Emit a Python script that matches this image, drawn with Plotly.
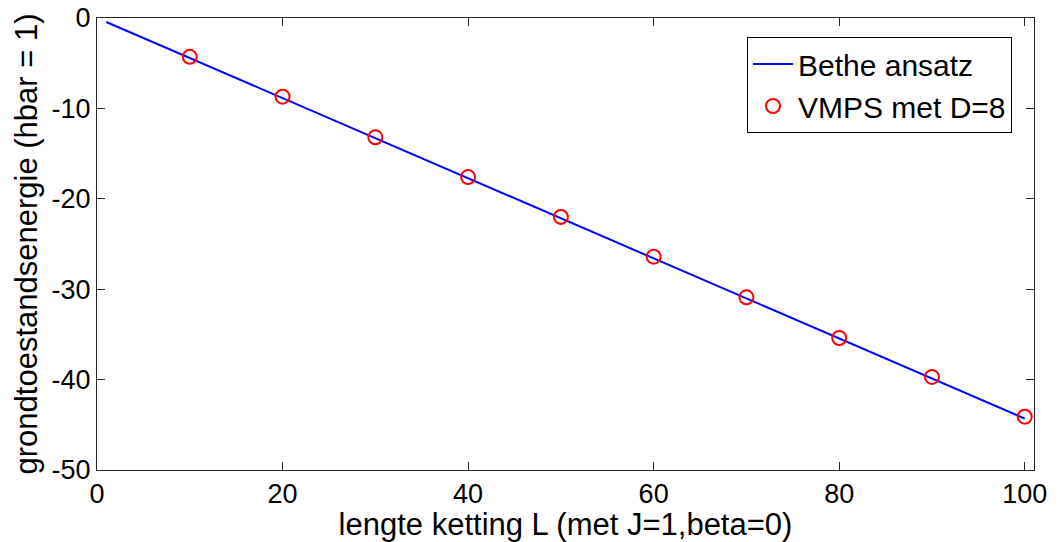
import plotly.graph_objects as go

FONT_FAMILY = "Liberation Sans, Arial, sans-serif"
AXIS_COLOR = "#262626"

# Bethe ansatz ground-state energy versus chain length
bethe_L = [1, 10, 20, 30, 40, 50, 60, 70, 80, 90, 100]
bethe_E = [-0.44, -4.43, -8.86, -13.29, -17.72, -22.16, -26.59, -31.02, -35.45, -39.88, -44.31]

# VMPS results with bond dimension D=8
vmps_L = [10, 20, 30, 40, 50, 60, 70, 80, 90, 100]
vmps_E = [-4.3, -8.7, -13.2, -17.6, -22.0, -26.4, -30.9, -35.4, -39.7, -44.1]


def _axis_layout(**overrides):
    axis = dict(
        showline=True,
        linecolor=AXIS_COLOR,
        linewidth=1,
        mirror="ticks",
        ticks="inside",
        ticklen=8,
        tickcolor=AXIS_COLOR,
        showgrid=False,
        zeroline=False,
        automargin=False,
        ticklabeloverflow="allow",
        tickfont=dict(size=27, color="#000000"),
        title_font=dict(size=31, color="#000000"),
    )
    axis.update(overrides)
    return axis


fig = go.Figure()
fig.add_trace(
    go.Scatter(
        x=bethe_L,
        y=bethe_E,
        mode="lines",
        name="Bethe ansatz",
        line=dict(color="#0000ff", width=2),
    )
)
fig.add_trace(
    go.Scatter(
        x=vmps_L,
        y=vmps_E,
        mode="markers",
        name="VMPS met D=8",
        marker=dict(
            symbol="circle-open",
            size=14,
            color="#ff0000",
            line=dict(color="#ff0000", width=2),
        ),
    )
)

fig.update_layout(
    width=1064,
    height=542,
    paper_bgcolor="#ffffff",
    plot_bgcolor="#ffffff",
    margin=dict(l=97, r=30, t=18, b=72, autoexpand=False),
    font=dict(family=FONT_FAMILY, color="#000000", size=30),
    xaxis=_axis_layout(
        range=[0, 101],
        tickvals=[0, 20, 40, 60, 80, 100],
        title=dict(text="lengte ketting L (met J=1,beta=0)", standoff=0),
    ),
    yaxis=_axis_layout(
        range=[-50, 0],
        tickvals=[0, -10, -20, -30, -40, -50],
        ticktext=["0", "-10", "-20", "-30", "-40", "-50"],
        title=dict(text="grondtoestandsenergie (hbar = 1)", standoff=4),
    ),
    legend=dict(
        x=0.9765,
        y=0.958,
        xanchor="right",
        yanchor="top",
        bgcolor="#ffffff",
        bordercolor="#000000",
        borderwidth=1,
        font=dict(size=30, color="#000000"),
        tracegroupgap=0,
        itemwidth=40,
    ),
    showlegend=True,
)

# drop the default 8px body margin so the figure fills the window exactly
fig.write_html(
    "out.html",
    config={"displayModeBar": False, "displaylogo": False},
    post_script="document.body.style.margin = '0';",
)
